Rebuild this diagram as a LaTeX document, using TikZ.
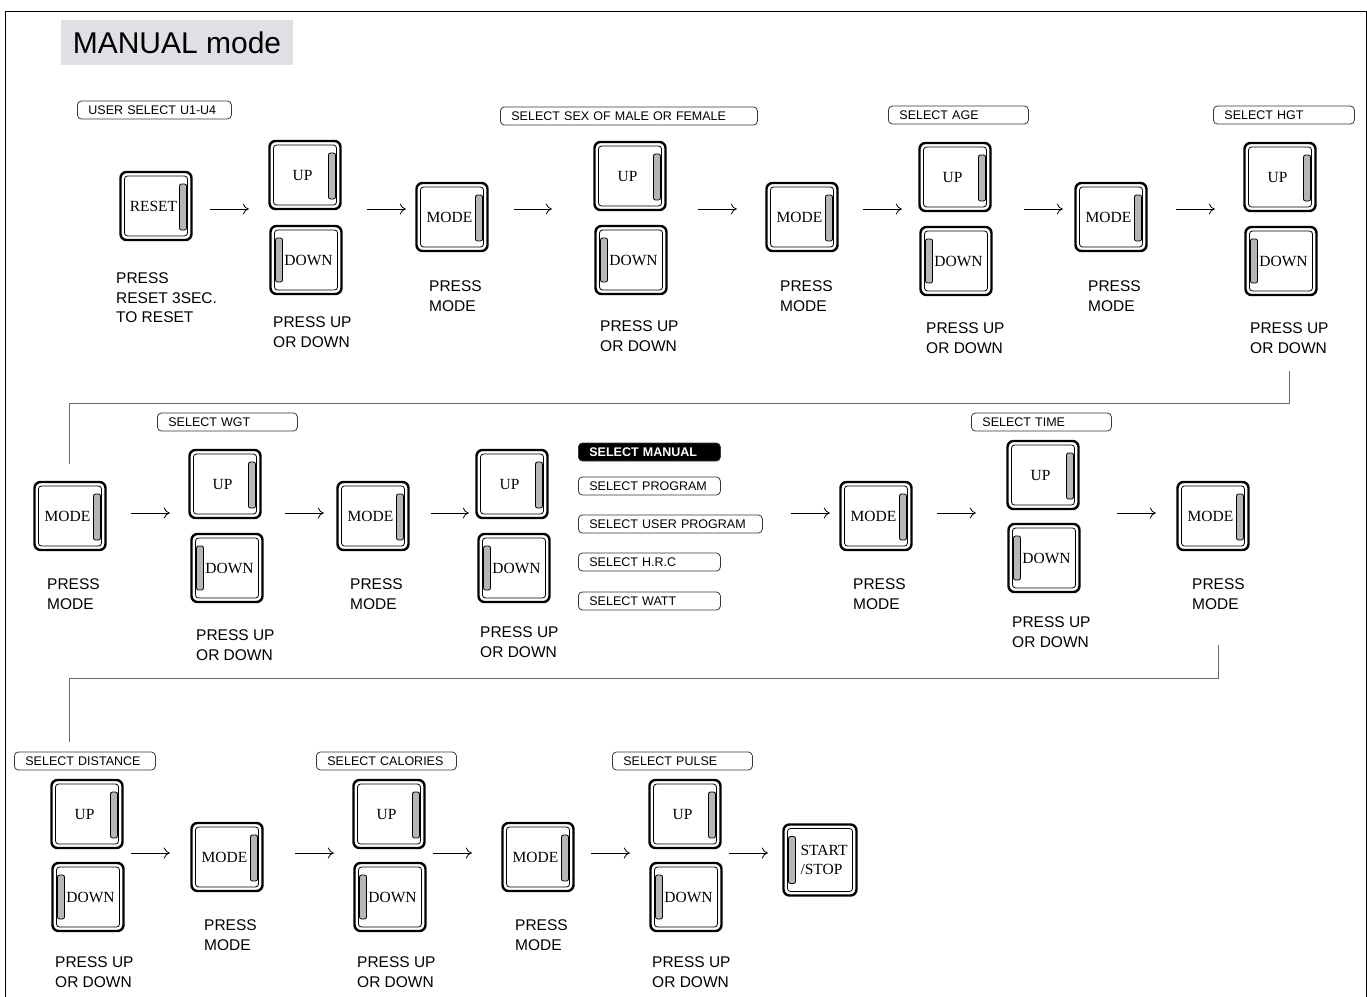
\documentclass[tikz,border=0pt]{standalone}
\usepackage{fontspec}
\setmainfont{Liberation Sans}
\newfontfamily\serifface{Liberation Serif}
\usetikzlibrary{arrows.meta}

\definecolor{titlegray}{RGB}{224,224,228}
\definecolor{tagline}{RGB}{55,55,55}
\definecolor{linkgray}{RGB}{105,105,105}
\definecolor{bargray}{RGB}{182,182,182}

\begin{document}
\begin{tikzpicture}[x=1pt, y=-1pt,
  btn/.style={draw, line width=2.4pt, rounded corners=6pt, inner sep=0pt, minimum width=71pt, minimum height=68pt, font=\serifface\fontsize{15.5}{19}\selectfont},
  barR/.style={path picture={
    \draw[line width=0.8pt, rounded corners=3pt] ([shift={(4pt,-4pt)}]path picture bounding box.north west) rectangle ([shift={(-4pt,4pt)}]path picture bounding box.south east);
    \draw[line width=0.8pt, rounded corners=2pt, fill=bargray] ([shift={(-12pt,-12pt)}]path picture bounding box.north east) rectangle ([shift={(-5pt,10pt)}]path picture bounding box.south east);
  }},
  barL/.style={path picture={
    \draw[line width=0.8pt, rounded corners=3pt] ([shift={(4pt,-4pt)}]path picture bounding box.north west) rectangle ([shift={(-4pt,4pt)}]path picture bounding box.south east);
    \draw[line width=0.8pt, rounded corners=2pt, fill=bargray] ([shift={(5pt,-12pt)}]path picture bounding box.north west) rectangle ([shift={(12pt,12pt)}]path picture bounding box.south west);
  }},
  btnR/.style={btn, barR, execute at end node={\hspace*{5pt}}},
  btnL/.style={btn, barL, execute at begin node={\hspace*{5pt}}},
  tag/.style={draw=tagline, line width=0.8pt, rounded corners=4pt, anchor=west, minimum height=18pt, inner ysep=0pt, inner xsep=11pt, align=left, font=\fontsize{12.5}{13}\selectfont},
  tagon/.style={tag, fill=black, text=white, font=\bfseries\fontsize{12.5}{13}\selectfont},
  presstext/.style={anchor=west, align=left, inner sep=0pt, font=\fontsize{15.5}{19.5}\selectfont},
  arr/.style={-{To[length=6pt, width=11pt]}, line width=0.8pt},
  link/.style={draw=linkgray, line width=1pt},
]
\useasboundingbox (0,0) rectangle (1367,996);

% frame and title
\draw[line width=1pt] (5,1010) -- (5,11) -- (1366,11) -- (1366,1010);
\node[fill=titlegray, minimum width=232pt, minimum height=45pt, font=\fontsize{30}{30}\selectfont] (title) at (177,42.5) {MANUAL mode};

% first row
\node[tag, text width=132pt] (tuser) at (77,110) {USER SELECT U1-U4};
\node[tag, text width=235pt] (tsex) at (500,116) {SELECT SEX OF MALE OR FEMALE};
\node[tag, text width=118pt] (tage) at (888,115) {SELECT AGE};
\node[tag, text width=119pt] (thgt) at (1213,115) {SELECT HGT};

\node[btnR] (reset) at (156,206) {RESET};
\node[btnR] (up1) at (305,175) {UP};
\node[btnL] (down1) at (306,260) {DOWN};
\node[btnR] (mode1) at (452,217) {MODE};
\node[btnR] (up2) at (630,176) {UP};
\node[btnL] (down2) at (631,260) {DOWN};
\node[btnR] (mode2) at (802,217) {MODE};
\node[btnR] (up3) at (955,177) {UP};
\node[btnL] (down3) at (956,261) {DOWN};
\node[btnR] (mode3) at (1111,217) {MODE};
\node[btnR] (up4) at (1280,177) {UP};
\node[btnL] (down4) at (1281,261) {DOWN};

\node[presstext] (cap0) at (116,298) {PRESS\\RESET 3SEC.\\TO RESET};
\node[presstext] (cap1) at (273,332) {PRESS UP\\OR DOWN};
\node[presstext] (capm1) at (429,296) {PRESS\\MODE};
\node[presstext] (cap2) at (600,336) {PRESS UP\\OR DOWN};
\node[presstext] (capm2) at (780,296) {PRESS\\MODE};
\node[presstext] (cap3) at (926,338) {PRESS UP\\OR DOWN};
\node[presstext] (capm3) at (1088,296) {PRESS\\MODE};
\node[presstext] (cap4) at (1250,338) {PRESS UP\\OR DOWN};

\coordinate (row1) at (0,209);
\draw[arr, shorten <=17.5pt, shorten >=19.5pt] (reset.east |- row1) -- (up1.west |- row1);
\draw[arr, shorten <=25.5pt, shorten >=9.5pt] (up1.east |- row1) -- (mode1.west |- row1);
\draw[arr, shorten <=25.5pt, shorten >=41.5pt] (mode1.east |- row1) -- (up2.west |- row1);
\draw[arr, shorten <=31.5pt, shorten >=28.5pt] (up2.east |- row1) -- (mode2.west |- row1);
\draw[arr, shorten <=24.5pt, shorten >=16.5pt] (mode2.east |- row1) -- (up3.west |- row1);
\draw[arr, shorten <=32.5pt, shorten >=11.5pt] (up3.east |- row1) -- (mode3.west |- row1);
\draw[arr, shorten <=28.5pt, shorten >=28.5pt] (mode3.east |- row1) -- (up4.west |- row1);

% second row
\node[tag, text width=118pt] (twgt) at (157,422) {SELECT WGT};
\node[tag, text width=118pt] (ttime) at (971,422) {SELECT TIME};

\node[btnR] (mode4) at (70,516) {MODE};
\node[btnR] (up5) at (225,484) {UP};
\node[btnL] (down5) at (227,568) {DOWN};
\node[btnR] (mode5) at (373,516) {MODE};
\node[btnR] (up6) at (512,484) {UP};
\node[btnL] (down6) at (514,568) {DOWN};

\node[tagon, text width=120pt] (tman) at (578,452) {SELECT MANUAL};
\node[tag, text width=120pt] (tprog) at (578,486) {SELECT PROGRAM};
\node[tag, text width=162pt] (tuprog) at (578,524) {SELECT USER PROGRAM};
\node[tag, text width=120pt] (thrc) at (578,562) {SELECT H.R.C};
\node[tag, text width=120pt] (twatt) at (578,601) {SELECT WATT};

\node[btnR] (mode6) at (876,516) {MODE};
\node[btnR] (up7) at (1043,475) {UP};
\node[btnL] (down7) at (1044,558) {DOWN};
\node[btnR] (mode7) at (1213,516) {MODE};

\node[presstext] (capm4) at (47,594) {PRESS\\MODE};
\node[presstext] (cap5) at (196,645) {PRESS UP\\OR DOWN};
\node[presstext] (capm5) at (350,594) {PRESS\\MODE};
\node[presstext] (cap6) at (480,642) {PRESS UP\\OR DOWN};
\node[presstext] (capm6) at (853,594) {PRESS\\MODE};
\node[presstext] (cap7) at (1012,632) {PRESS UP\\OR DOWN};
\node[presstext] (capm7) at (1192,594) {PRESS\\MODE};

\coordinate (row2) at (0,513);
\draw[arr, shorten <=24.5pt, shorten >=18.5pt] (mode4.east |- row2) -- (up5.west |- row2);
\draw[arr, shorten <=23.5pt, shorten >=12.5pt] (up5.east |- row2) -- (mode5.west |- row2);
\draw[arr, shorten <=21.5pt, shorten >=6.5pt] (mode5.east |- row2) -- (up6.west |- row2);
\draw[arr, shorten <=28pt, shorten >=9.5pt] (tuprog.east |- row2) -- (mode6.west |- row2);
\draw[arr, shorten <=24.5pt, shorten >=30.5pt] (mode6.east |- row2) -- (up7.west |- row2);
\draw[arr, shorten <=37.5pt, shorten >=20.5pt] (up7.east |- row2) -- (mode7.west |- row2);

% third row
\node[tag, text width=119pt] (tdist) at (14,761) {SELECT DISTANCE};
\node[tag, text width=118pt] (tcal) at (316,761) {SELECT CALORIES};
\node[tag, text width=118pt] (tpulse) at (612,761) {SELECT PULSE};

\node[btnR] (up8) at (87,814) {UP};
\node[btnL] (down8) at (88,897) {DOWN};
\node[btnR] (mode8) at (227,857) {MODE};
\node[btnR] (up9) at (389,814) {UP};
\node[btnL] (down9) at (390,897) {DOWN};
\node[btnR] (mode9) at (538,857) {MODE};
\node[btnR] (up10) at (685,814) {UP};
\node[btnL] (down10) at (686,897) {DOWN};
\node[btn, barL, minimum width=73pt, minimum height=71pt, align=left] (start) at (820,860) {\hspace*{8pt}START\\\hspace*{8pt}/STOP};

\node[presstext] (cap8) at (55,972) {PRESS UP\\OR DOWN};
\node[presstext] (capm8) at (204,935) {PRESS\\MODE};
\node[presstext] (cap9) at (357,972) {PRESS UP\\OR DOWN};
\node[presstext] (capm9) at (515,935) {PRESS\\MODE};
\node[presstext] (cap10) at (652,972) {PRESS UP\\OR DOWN};

\coordinate (row3) at (0,853);
\draw[arr, shorten <=7.5pt, shorten >=20.5pt] (up8.east |- row3) -- (mode8.west |- row3);
\draw[arr, shorten <=31.5pt, shorten >=18.5pt] (mode8.east |- row3) -- (up9.west |- row3);
\draw[arr, shorten <=7.5pt, shorten >=29.5pt] (up9.east |- row3) -- (mode9.west |- row3);
\draw[arr, shorten <=16.5pt, shorten >=18.5pt] (mode9.east |- row3) -- (up10.west |- row3);
\draw[arr, shorten <=7.5pt, shorten >=14.5pt] (up10.east |- row3) -- (start.west |- row3);

% links between the rows
\coordinate (turn1) at (69,403);
\coordinate (turn2) at (69,678);
\draw[link, shorten <=18pt, shorten >=17pt] (cap4.south) -- (cap4.south |- turn1) -- (turn1) -- (turn1 |- mode4.north);
\draw[link, shorten <=36pt, shorten >=10pt] (capm7.south) -- (capm7.south |- turn2) -- (turn2) -- (turn2 |- tdist.north);

\end{tikzpicture}
\end{document}
